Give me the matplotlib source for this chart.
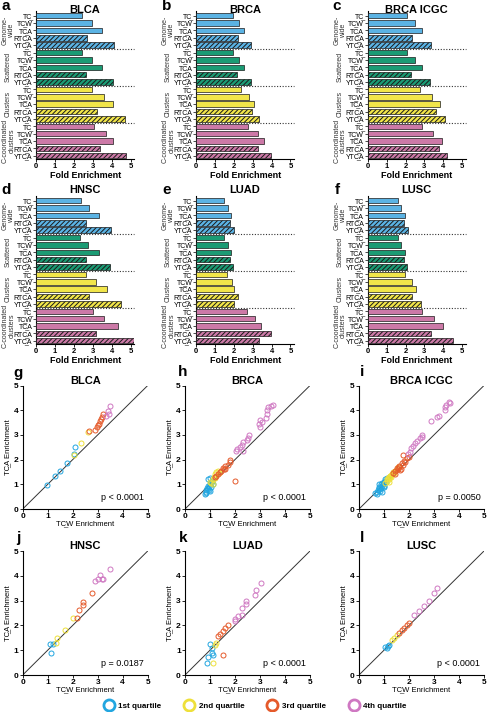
import numpy as np
import matplotlib
matplotlib.use('Agg')
import matplotlib.pyplot as plt
from matplotlib.lines import Line2D
from matplotlib import transforms

plt.rcParams['font.family'] = ['Liberation Sans', 'DejaVu Sans']
plt.rcParams['hatch.linewidth'] = 0.7

# ---- data ----
motifs = ['TC', 'TCW', 'TCA', 'RTCA', 'YTCA']
motif_labels = ['TC\u0332', 'TC\u0332W', 'TC\u0332A', 'RTC\u0332A', 'YTC\u0332A']
groups = ['Genome-\nwide', 'Scattered', 'Clusters', 'C-coordinated\nclusters']
group_colors = ['#5BB3E4', '#1B9B74', '#F1E54A', '#CC79A7']

bar_titles = ['BLCA', 'BRCA', 'BRCA ICGC', 'HNSC', 'LUAD', 'LUSC']
# fold enrichment: rows = groups, cols = motifs
blca_fold = [[2.45, 2.97, 3.50, 2.70, 4.15], [2.43, 2.95, 3.48, 2.65, 4.10],
             [2.95, 3.60, 4.05, 3.25, 4.70], [3.05, 3.70, 4.10, 3.40, 4.75]]
brca_fold = [[1.97, 2.30, 2.56, 2.20, 2.93], [1.97, 2.26, 2.56, 2.17, 2.90],
             [2.40, 2.82, 3.08, 2.94, 3.33], [2.77, 3.30, 3.60, 3.30, 3.95]]
icgc_fold = [[2.10, 2.52, 2.89, 2.34, 3.35], [2.07, 2.48, 2.86, 2.29, 3.31],
             [2.78, 3.38, 3.81, 3.63, 4.11], [2.86, 3.44, 3.92, 3.76, 4.20]]
hnsc_fold = [[2.36, 2.80, 3.35, 2.65, 3.97], [2.34, 2.77, 3.33, 2.63, 3.92],
             [2.63, 3.17, 3.75, 2.82, 4.48], [3.00, 3.60, 4.35, 3.16, 5.24]]
luad_fold = [[1.50, 1.71, 1.85, 1.80, 1.99], [1.50, 1.67, 1.85, 1.78, 1.97],
             [1.64, 1.89, 2.00, 2.21, 1.99], [2.70, 3.10, 3.45, 3.95, 3.35]]
lusc_fold = [[1.58, 1.77, 1.98, 1.91, 2.13], [1.58, 1.74, 1.95, 1.91, 2.09],
             [1.98, 2.32, 2.55, 2.37, 2.80], [2.89, 3.50, 3.97, 3.35, 4.52]]

quartile_labels = ['1st quartile', '2nd quartile', '3rd quartile', '4th quartile']
quartile_colors = ['#22A6E0', '#EEE03A', '#E55A2B', '#CF78C2']

# TCW (x) vs TCA (y) enrichment per sample, by quartile
blca_x = [[0.96, 1.30, 1.50, 1.76, 2.05, 2.09], [2.05, 2.32, 2.60],
          [2.67, 2.90, 2.97, 3.07, 3.10, 3.17, 3.23, 3.00, 3.15], [3.34, 3.40, 3.50, 3.45]]
blca_y = [[0.97, 1.35, 1.55, 1.87, 2.21, 2.52], [2.20, 2.66, 3.10],
          [3.16, 3.20, 3.30, 3.45, 3.58, 3.71, 3.84, 3.40, 3.65], [3.78, 3.98, 4.15, 3.85]]
brca_x = [[0.80, 0.85, 0.90, 0.95, 1.00, 1.05, 0.90, 1.00, 1.10, 0.95, 0.85, 1.05,
           0.88, 0.92, 0.98, 1.02, 0.83, 1.08],
          [1.00, 1.10, 1.15, 1.20, 1.25, 1.30, 1.10, 1.35, 1.05, 1.18],
          [1.20, 1.30, 1.40, 1.50, 1.60, 1.60, 1.70, 1.80, 1.80, 2.00, 1.55, 1.45, 1.25],
          [2.04, 2.09, 2.20, 2.27, 2.33, 2.33, 2.49, 2.53, 2.57, 3.00, 2.97, 3.07, 3.00,
           3.24, 3.29, 3.29, 3.33, 3.44, 3.53]]
brca_y = [[0.60, 0.70, 0.80, 0.90, 1.00, 1.10, 1.20, 1.25, 1.00, 0.75, 0.65, 0.90,
           0.85, 0.95, 0.72, 1.05, 0.78, 1.15],
          [1.10, 1.20, 1.30, 1.40, 1.50, 1.55, 1.00, 1.45, 1.05, 1.25],
          [1.30, 1.40, 1.50, 1.65, 1.60, 1.75, 1.80, 1.98, 1.90, 1.15, 1.60, 1.55, 1.35],
          [2.34, 2.43, 2.53, 2.61, 2.71, 2.36, 2.80, 2.88, 2.98, 3.32, 3.43, 3.53, 3.62,
           3.70, 3.84, 4.00, 4.11, 4.17, 4.21]]
icgc_x = [[0.70, 0.75, 0.80, 0.85, 0.90, 0.95, 1.00, 1.05, 1.10, 0.80, 0.90, 1.00,
           0.65, 0.72, 0.78, 0.88, 0.93, 0.98, 1.03, 0.83, 0.86, 1.08],
          [1.10, 1.15, 1.20, 1.25, 1.30, 1.35, 1.40, 1.50, 1.55, 1.20, 1.12, 1.18,
           1.22, 1.28, 1.33, 1.38, 1.45, 1.05],
          [1.35, 1.45, 1.55, 1.60, 1.70, 1.76, 1.80, 1.90, 2.00, 1.65, 1.42, 1.50,
           1.58, 1.68, 1.75, 1.85],
          [1.97, 2.04, 2.07, 2.17, 2.24, 2.31, 2.44, 2.51, 2.53, 2.88, 3.13, 3.20,
           3.43, 3.45, 3.48, 3.61, 3.64]]
icgc_y = [[0.60, 0.75, 0.85, 0.80, 0.95, 1.00, 1.10, 1.15, 1.25, 1.00, 0.70, 0.90,
           0.65, 0.70, 0.90, 0.85, 1.05, 0.95, 1.20, 0.72, 1.02, 1.10],
          [1.15, 1.25, 1.30, 1.35, 1.40, 1.50, 1.45, 1.60, 1.70, 1.10, 1.22, 1.20,
           1.32, 1.30, 1.42, 1.50, 1.55, 1.05],
          [1.45, 1.55, 1.60, 1.75, 1.85, 2.19, 1.95, 2.05, 2.10, 1.58, 1.40, 1.65,
           1.70, 1.62, 1.80, 1.90],
          [2.22, 2.31, 2.45, 2.55, 2.66, 2.77, 2.86, 2.93, 3.00, 3.58, 3.71, 3.78,
           4.00, 4.11, 4.20, 4.33, 4.30]]
hnsc_x = [[1.09, 1.23, 1.12], [1.33, 1.39, 1.69, 2.00],
          [2.17, 2.27, 2.43, 2.43, 2.76], [2.91, 3.03, 3.09, 3.16, 3.23, 3.49]]
hnsc_y = [[1.25, 1.25, 0.90], [1.30, 1.51, 1.83, 2.30],
          [2.30, 2.64, 2.82, 2.94, 3.32], [3.79, 3.86, 4.03, 3.86, 3.89, 4.26]]
luad_x = [[0.87, 0.93, 1.00, 1.07, 1.07, 1.13], [1.13, 1.20, 1.25],
          [1.33, 1.40, 1.53, 1.60, 1.73, 1.53],
          [2.00, 2.00, 2.13, 2.27, 2.27, 2.44, 2.44, 2.80, 2.84, 3.03]]
luad_y = [[0.49, 0.73, 1.25, 0.87, 1.07, 0.80], [0.50, 1.20, 1.30],
          [1.56, 1.67, 1.76, 1.90, 2.00, 0.80],
          [2.17, 2.26, 2.37, 2.40, 2.70, 2.86, 2.99, 3.23, 3.43, 3.70]]
lusc_x = [[1.04, 1.10, 1.15, 1.20], [1.30, 1.40, 1.50],
          [1.60, 1.70, 1.80, 1.90, 2.00], [2.20, 2.40, 2.60, 2.80, 3.00, 3.10]]
lusc_y = [[1.14, 1.10, 1.15, 1.20], [1.40, 1.50, 1.60],
          [1.70, 1.80, 1.90, 2.00, 2.10], [2.40, 2.60, 2.80, 3.00, 3.30, 3.50]]
p_values = ['p < 0.0001', 'p < 0.0001', 'p = 0.0050', 'p = 0.0187', 'p < 0.0001', 'p < 0.0001']

# ---- figure ----
W, H = 487, 712
fig = plt.figure(figsize=(W / 100, H / 100), dpi=100)


def add_ax(l, t, r, b):
    return fig.add_axes([l / W, 1 - b / H, (r - l) / W, (b - t) / H])


def ftext(x, y, s, **kw):
    fig.text(x / W, 1 - y / H, s, **kw)


def bar_panel(ax, vals):
    n = len(motifs)
    for gi, row in enumerate(vals):
        for mi, v in enumerate(row):
            hatched = motifs[mi] in ('RTCA', 'YTCA')
            ax.barh(gi * n + mi, v, height=0.74, color=group_colors[gi],
                    edgecolor='#1a1a1a', linewidth=0.5,
                    hatch='///////' if hatched else None, zorder=3)
        if gi < len(vals) - 1:
            ax.axhline(gi * n + n - 0.5, color='#333333', ls=(0, (1, 1.5)), lw=0.8, zorder=1,
                       clip_on=False, xmin=0, xmax=1.0)
    ax.set_xlim(0, 5.2)
    ax.set_ylim(len(vals) * n - 0.6, -0.6)
    ax.set_yticks(range(len(vals) * n))
    ax.set_yticklabels(motif_labels * len(vals), fontsize=5)
    ax.set_xticks(range(6))
    ax.set_xticklabels([str(i) for i in range(6)], fontsize=5.5, fontweight='bold')
    ax.tick_params(axis='y', length=2, width=0.5, pad=0.5)
    ax.tick_params(axis='x', length=2, width=0.6, pad=1)
    for s in ('top', 'right'):
        ax.spines[s].set_visible(False)
    for s in ('left', 'bottom'):
        ax.spines[s].set_linewidth(0.8)
    ax.set_xlabel('Fold Enrichment', fontsize=6.5, fontweight='bold', labelpad=1)
    tr = transforms.blended_transform_factory(ax.transAxes, ax.transData)
    for gi, g in enumerate(groups):
        ax.text(-0.28, gi * n + 2, g, transform=tr, rotation=90, ha='center', va='center',
                fontsize=5, color='#333333', linespacing=0.95)


bar_data = [blca_fold, brca_fold, icgc_fold, hnsc_fold, luad_fold, lusc_fold]
bar_lefts = [36, 196, 367.7]
bar_rows = [(11.3, 158.7), (196.3, 343.7)]
letters_bar = ['a', 'b', 'c', 'd', 'e', 'f']
letter_x_bar = [6, 167, 337]
for i, vals in enumerate(bar_data):
    r, c = divmod(i, 3)
    l = bar_lefts[c]
    t, b = bar_rows[r]
    ax = add_ax(l, t, l + 5.2 * 18.9, b)
    bar_panel(ax, vals)
    ftext(l + 49, t - 1 if r == 0 else t - 6, bar_titles[i], ha='center', va='center',
          fontsize=8, fontweight='bold')
    ftext(letter_x_bar[c], 6 if r == 0 else 190, letters_bar[i], ha='center', va='center',
          fontsize=11, fontweight='bold')

sc_x = [blca_x, brca_x, icgc_x, hnsc_x, luad_x, lusc_x]
sc_y = [blca_y, brca_y, icgc_y, hnsc_y, luad_y, lusc_y]
sc_lefts = [22.7, 185, 359]
sc_rows = [(385.5, 509), (551, 675)]
letters_sc = ['g', 'h', 'i', 'j', 'k', 'l']
letter_x_sc = [18, 183, 362]
for i in range(6):
    r, c = divmod(i, 3)
    l = sc_lefts[c]
    t, b = sc_rows[r]
    ax = add_ax(l, t, l + 125, b)
    ax.plot([0, 5], [0, 5], color='#333333', lw=0.7, zorder=1)
    for q in range(4):
        ax.plot(sc_x[i][q], sc_y[i][q], 'o', ls='none', mfc='none', mec=quartile_colors[q],
                mew=0.7, ms=3.6, zorder=3)
    ax.set_xlim(0, 5)
    ax.set_ylim(0, 5)
    ax.set_xticks(range(6))
    ax.set_yticks(range(6))
    ax.set_xticklabels([str(k) for k in range(6)], fontsize=6, fontweight='bold')
    ax.set_yticklabels([str(k) for k in range(6)], fontsize=6, fontweight='bold')
    ax.tick_params(length=2, width=0.6, pad=1)
    for s in ('top', 'right'):
        ax.spines[s].set_visible(False)
    for s in ('left', 'bottom'):
        ax.spines[s].set_linewidth(0.8)
    ax.set_xlabel('TC\u0332W Enrichment', fontsize=5.5, labelpad=0)
    ax.set_ylabel('TC\u0332A Enrichment', fontsize=5.5, labelpad=2)
    ax.text(4.85, 0.45, p_values[i], ha='right', va='center', fontsize=6.5)
    ftext(l + 62.5, t - 5, bar_titles[i], ha='center', va='center', fontsize=8, fontweight='bold')
    ftext(letter_x_sc[c], t - 13, letters_sc[i], ha='center', va='center',
          fontsize=11, fontweight='bold')

handles = [Line2D([], [], marker='o', ls='none', mfc='none', mec=c, mew=2, ms=8)
           for c in quartile_colors]
leg = fig.legend(handles, quartile_labels, loc='center', bbox_to_anchor=(0.521, 1 - 706 / H),
                 ncol=4, frameon=False, handletextpad=0.2, columnspacing=2.45,
                 prop={'weight': 'bold', 'size': 5.8})

fig.savefig('out.png', dpi=100)
